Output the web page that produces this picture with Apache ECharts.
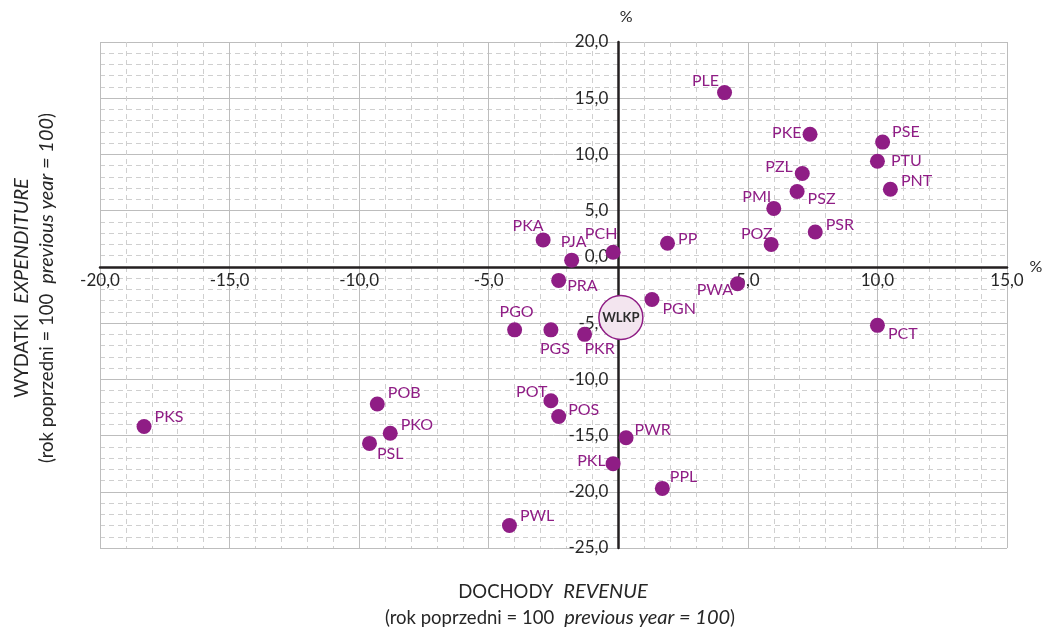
<!DOCTYPE html>
<html>
<head>
<meta charset="utf-8">
<script src="https://cdn.jsdelivr.net/npm/echarts@6/dist/echarts.min.js"></script>
<style>
    html, body { margin: 0; padding: 0; background: #fff; }
    #chart { width: 1042px; height: 630px; }
</style>
</head>
<body>
<div id="chart"></div>
<script>
// Powiaty: dynamika dochodów (x) i wydatków (y), rok poprzedni = 100
const powiaty = ['PLE', 'PKE', 'PSE', 'PTU', 'PZL', 'PSZ', 'PNT', 'PMI', 'PSR', 'POZ',
    'PP', 'PCH', 'PKA', 'PJA', 'PRA', 'PWA', 'PGN', 'PGO', 'PGS', 'PKR', 'PCT',
    'POB', 'PKS', 'PKO', 'PSL', 'POT', 'POS', 'PWR', 'PKL', 'PPL', 'PWL'];
const dochody = [4.1, 7.4, 10.2, 10.0, 7.1, 6.9, 10.5, 6.0, 7.6, 5.9,
    1.9, -0.2, -2.9, -1.8, -2.3, 4.6, 1.3, -4.0, -2.6, -1.3, 10.0,
    -9.3, -18.3, -8.8, -9.6, -2.6, -2.3, 0.3, -0.2, 1.7, -4.2];
const wydatki = [15.5, 11.8, 11.1, 9.4, 8.3, 6.7, 6.9, 5.2, 3.1, 2.0,
    2.1, 1.3, 2.4, 0.6, -1.2, -1.5, -2.9, -5.6, -5.6, -6.0, -5.2,
    -12.2, -14.2, -14.8, -15.7, -11.9, -13.3, -15.2, -17.5, -19.7, -23.0];

// województwo wielkopolskie
const wojewodztwo = ['WLKP'];
const wojDochody = [0.1];
const wojWydatki = [-4.5];

const xMin = -20, xMax = 15, yMin = -25, yMax = 20;

// rozmieszczenie podpisów: [pozycja, przesunięcie x, przesunięcie y]
const etykiety = {
    PLE: ['left', 5, -12], PKE: ['left', 2, -1], PSE: ['right', -1, -10],
    PTU: ['right', 3, 0], PZL: ['left', 1, -7], PSZ: ['right', 0, 7],
    PNT: ['right', 0, -8], PMI: ['left', 8, -12], PSR: ['right', 0, -7],
    POZ: ['left', 12, -11], PP: ['right', 0, -4], PCH: ['top', -12, 0],
    PKA: ['top', -15, 4], PJA: ['top', 2, 0], PRA: ['right', -2, 5],
    PWA: ['left', 6, 6], PGN: ['right', 0, 9], PGO: ['top', 2, 0],
    PGS: ['bottom', 4, 0], PKR: ['bottom', 15, -4], PCT: ['right', 0, 8],
    POB: ['right', 0, -11], PKS: ['right', 0, -10], PKO: ['right', 0, -8],
    PSL: ['right', -3, 10], POT: ['left', 7, -9], POS: ['right', -1, -7],
    PWR: ['right', -2, -8], PKL: ['left', 3, -3], PPL: ['right', -3, -12],
    PWL: ['right', 0, -10]
};

const fiolet = '#8f1d85';
const czcionka = 'Lato, "Noto Sans", sans-serif';

const fmt = v => v.toFixed(1).replace('.', ',');

const getOption = () => {
    const grid = { left: 100, right: 35, top: 42, bottom: 82, outerBoundsMode: 'none', containLabel: false };
    const plotW = 1042 - grid.left - grid.right;
    const plotH = 630 - grid.top - grid.bottom;
    // osie przecinają się w punkcie (0, 0)
    const yOffset = -plotW * (0 - xMin) / (xMax - xMin);
    const xOffset = -plotH * (0 - yMin) / (yMax - yMin);

    const punkty = powiaty.map((nazwa, i) => {
        const e = etykiety[nazwa];
        return {
            name: nazwa,
            value: [dochody[i], wydatki[i]],
            label: { position: e[0], offset: [e[1], e[2]] }
        };
    });

    const woj = wojewodztwo.map((nazwa, i) => ({
        name: nazwa,
        value: [wojDochody[i], wojWydatki[i]]
    }));

    const siatkaGlowna = { show: true, lineStyle: { color: '#bdbdbd', width: 1 } };
    const siatkaPomocnicza = { show: true, lineStyle: { color: '#cfcfcf', width: 1, type: [5, 4] } };
    const liniaOsi = { show: true, onZero: false, lineStyle: { color: '#231f20', width: 2.5 } };
    const tytul = {
        n: { fontSize: 18.5, fontFamily: czcionka, fill: '#262626' },
        i: { fontSize: 20, fontFamily: czcionka, fontStyle: 'italic', fill: '#262626' }
    };

    return {
        backgroundColor: '#ffffff',
        animation: false,
        textStyle: { fontFamily: czcionka },
        grid: grid,
        xAxis: {
            type: 'value',
            min: xMin,
            max: xMax,
            interval: 5,
            offset: xOffset,
            name: '%',
            nameLocation: 'end',
            nameGap: 22,
            nameTextStyle: { fontSize: 16, color: '#262626', fontFamily: czcionka, padding: [0, 0, 18, 0] },
            axisLine: liniaOsi,
            axisTick: { show: false },
            axisLabel: {
                fontSize: 17,
                color: '#262626',
                fontFamily: czcionka,
                margin: 5,
                formatter: v => (v === 0 ? '' : fmt(v))
            },
            splitLine: siatkaGlowna,
            minorTick: { show: false, splitNumber: 5 },
            minorSplitLine: siatkaPomocnicza
        },
        yAxis: {
            type: 'value',
            min: yMin,
            max: yMax,
            interval: 5,
            offset: yOffset,
            name: '%',
            nameLocation: 'end',
            nameGap: 17,
            nameTextStyle: { fontSize: 16, color: '#262626', fontFamily: czcionka, padding: [0, 0, 0, 16] },
            axisLine: liniaOsi,
            axisTick: { show: false },
            axisLabel: {
                fontSize: 17,
                color: '#262626',
                fontFamily: czcionka,
                margin: 10,
                formatter: v => (v === 0 ? '{z|0,0}' : fmt(v)),
                rich: {
                    z: { fontSize: 17, color: '#262626', fontFamily: czcionka, padding: [0, 0, 20, 0] }
                }
            },
            splitLine: siatkaGlowna,
            minorTick: { show: false, splitNumber: 5 },
            minorSplitLine: siatkaPomocnicza
        },
        graphic: [
            {
                type: 'text',
                x: 553,
                y: 592,
                style: {
                    text: '{n|DOCHODY}   {i|REVENUE}',
                    align: 'center',
                    verticalAlign: 'middle',
                    rich: tytul
                }
            },
            {
                type: 'text',
                x: 560,
                y: 618,
                style: {
                    text: '{n|(rok poprzedni = 100}   {i|previous year = 100}{n|)}',
                    align: 'center',
                    verticalAlign: 'middle',
                    rich: tytul
                }
            },
            {
                type: 'text',
                x: 22,
                y: 288,
                rotation: Math.PI / 2,
                style: {
                    text: '{n|WYDATKI}   {i|EXPENDITURE}',
                    align: 'center',
                    verticalAlign: 'middle',
                    rich: tytul
                }
            },
            {
                type: 'text',
                x: 47,
                y: 288,
                rotation: Math.PI / 2,
                style: {
                    text: '{n|(rok poprzedni = 100}   {i|previous year = 100}{n|)}',
                    align: 'center',
                    verticalAlign: 'middle',
                    rich: tytul
                }
            }
        ],
        series: [
            {
                name: 'Powiaty',
                type: 'scatter',
                symbolSize: 15,
                itemStyle: { color: fiolet, opacity: 1 },
                label: {
                    show: true,
                    formatter: '{b}',
                    distance: 3,
                    fontSize: 16,
                    fontFamily: czcionka,
                    color: fiolet
                },
                data: punkty,
                z: 3
            },
            {
                name: 'Województwo',
                type: 'scatter',
                symbolSize: 44,
                itemStyle: { color: '#f3e5ef', borderColor: fiolet, borderWidth: 1.5, opacity: 1 },
                label: {
                    show: true,
                    position: 'inside',
                    formatter: '{b}',
                    fontSize: 13,
                    fontWeight: 'bold',
                    fontFamily: czcionka,
                    color: '#2b2b2b'
                },
                data: woj,
                z: 4
            }
        ]
    };
};

const chart = echarts.init(document.getElementById('chart'));
chart.setOption(getOption());
</script>
</body>
</html>
